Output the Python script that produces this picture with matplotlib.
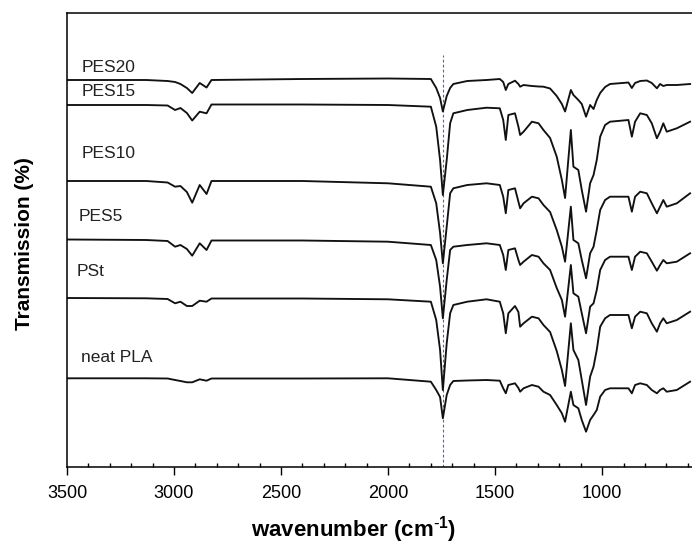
import numpy as np
import matplotlib
matplotlib.use("Agg")
import matplotlib.pyplot as plt
from matplotlib.ticker import MultipleLocator

plt.rcParams['font.family'] = ['Liberation Sans', 'DejaVu Sans']

# wavenumber grid (cm-1)
wavenumber = [3500, 3130, 3030, 2995, 2970, 2940, 2915, 2880, 2848, 2825,
              2400, 2000, 1800, 1775, 1757, 1744, 1726, 1710, 1695, 1630,
              1540, 1478, 1462, 1450, 1438, 1407, 1391, 1383, 1367, 1328,
              1297, 1274, 1243, 1212, 1188, 1173, 1146, 1134, 1111, 1095,
              1075, 1056, 1040, 1025, 1009, 986, 963, 877, 861, 846,
              822, 791, 768, 744, 729, 714, 698, 651, 589]

# stacked transmission (arbitrary units, offset per sample)
pes20 = [387, 387, 386, 385, 383, 379, 374, 384, 379.5, 387,
         388, 388.5, 388, 379, 369, 355.5, 371, 379, 383, 386,
         387, 388, 385, 377, 383, 386.3, 383, 380.3, 382, 381,
         380.5, 380.3, 378.5, 371, 363, 355.5, 377, 372, 367, 363,
         350.3, 362, 358, 367, 374, 380, 383, 384.5, 379, 384,
         386, 386.5, 384, 378.7, 383, 381, 382, 382, 383]
pes15 = [362, 362, 361.5, 357, 359, 354, 346.5, 355.3, 353.7, 362.5,
         362.5, 362, 360.3, 340.3, 307, 272, 307, 343.7, 353.7, 357,
         359.3, 358.7, 347, 327, 352, 353.7, 340.3, 332, 335.3, 345.3,
         343.7, 337, 329, 310.3, 287, 269, 337, 300.3, 297, 277,
         255.3, 283.7, 292, 307, 330.3, 342, 345.3, 347, 330.3, 345.3,
         353.7, 352, 343.7, 328.7, 335.3, 343.7, 335.3, 338.7, 345.3]
pes10 = [286, 286, 284.5, 280.3, 281, 275, 264.3, 282, 273, 286,
         286, 283.7, 280.3, 263.7, 234, 203.7, 240.3, 273.7, 278.7, 282,
         283.7, 282, 270.3, 253.7, 277, 278.7, 265.3, 258.7, 263.7, 270.3,
         268.7, 262, 255, 237, 220.3, 205.3, 260.3, 227, 223.7, 207,
         188.7, 213.7, 220.3, 237, 257, 267, 270.3, 270.3, 255.3, 270.3,
         275.3, 273.7, 263.7, 253.7, 260.3, 267, 260.3, 263.7, 273.7]
pes5 = [227.5, 227, 226, 220.3, 222, 218, 211.3, 223.7, 217, 226.5,
        226.5, 225.3, 222, 207, 180.3, 148.7, 187, 217, 220.3, 222,
        223.7, 222, 212, 197, 217, 218.7, 207, 202, 205.3, 212,
        210.3, 203.7, 197, 179, 167, 150.3, 202, 173.7, 170.3, 153.7,
        133.7, 160.3, 163.7, 177, 197, 207, 210.3, 210.3, 197, 210.3,
        215.3, 213.7, 205.3, 196.3, 202, 207, 203.7, 205.3, 213.7]
pst = [169, 168.7, 168, 163.7, 165.3, 161, 161, 166.3, 165.3, 168.5,
       168.5, 167.7, 165.3, 147, 117, 77, 123.7, 153.7, 162, 165.3,
       167.7, 165.3, 153.7, 133.7, 153.7, 161, 155, 140.3, 143.7, 150.3,
       148.7, 142, 135, 116, 97, 81, 143.7, 117, 107, 87,
       62, 90.3, 100.3, 117, 140.3, 148.7, 152, 152, 138.7, 150.3,
       155.3, 153.7, 143.7, 135.3, 143.7, 148.7, 143.7, 147, 155.3]
neat_pla = [88.7, 88.7, 88.5, 87, 86, 84.7, 84.7, 87.7, 86.3, 88.5,
            88.5, 88.7, 85.3, 77, 70, 48.7, 72, 82, 86, 86.5,
            87, 86.3, 78.7, 73.7, 82, 83.7, 79, 75.3, 78.7, 82,
            80.3, 75.3, 72, 62, 53.7, 45.3, 75.3, 62, 58.7, 47,
            35.3, 47, 52, 57, 70.3, 77, 78.7, 78.7, 73.7, 82,
            83.7, 82, 77, 73.7, 77, 78.7, 75.3, 77, 85.3]

series = [pes20, pes15, pes10, pes5, pst, neat_pla]
labels = ["PES20", "PES15", "PES10", "PES5", "PSt", "neat PLA"]
label_x = [3430, 3430, 3431, 3444, 3453, 3436]
label_y = [400, 375.3, 314, 250.3, 195.3, 109]

carbonyl = 1743
carbonyl_top = 412

fig = plt.figure(figsize=(6.92, 5.44), dpi=100)
ax = fig.add_axes([67/692, 1-467/544, 625/692, 454/544])

ax.vlines(carbonyl, 0, carbonyl_top, colors='#3d67c8', linestyles=(0, (2.5, 2)), lw=0.8, zorder=1)

for s in series:
    ax.plot(wavenumber, s, color='#111111', lw=1.35, zorder=2)

for lab, lx, ly in zip(labels, label_x, label_y):
    ax.text(lx, ly, lab, fontsize=12.5, ha='left', va='center', color='#222222')

ax.set_xlim(3500, 580)
ax.set_ylim(0, 454)
ax.set_yticks([])
ax.xaxis.set_major_locator(MultipleLocator(500))
ax.xaxis.set_minor_locator(MultipleLocator(100))
ax.tick_params(axis='x', which='major', direction='out', length=6, width=1, labelsize=13, pad=7)
ax.tick_params(axis='x', which='minor', direction='in', length=3, width=1)
ax.spines['right'].set_visible(False)
for sp in ['left', 'top', 'bottom']:
    ax.spines[sp].set_linewidth(1.1)

fig.text(354/692, 1-530/544, r"wavenumber (cm$^{\mathregular{\text{-}1}}$)", fontsize=16,
         fontweight='bold', ha='center', va='center')
fig.text(25/692, 1-244/544, "Transmission (%)", fontsize=15, fontweight='bold',
         rotation=90, ha='center', va='center')

fig.savefig("out.png", dpi=100)
